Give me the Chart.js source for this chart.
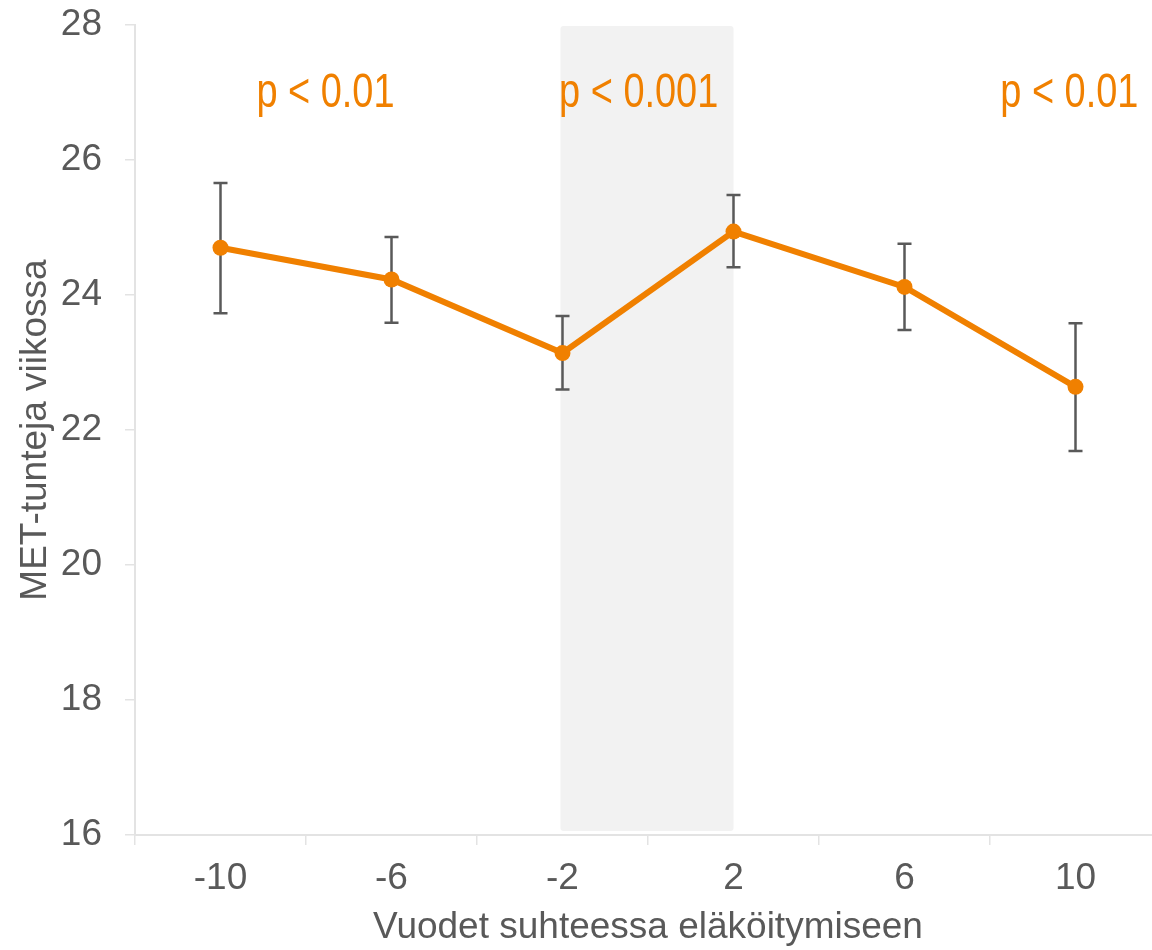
<!DOCTYPE html>
<html>
<head>
<meta charset="utf-8">
<script src="https://cdn.jsdelivr.net/npm/chart.js@4/dist/chart.umd.min.js"></script>
<style>
  html, body { margin: 0; padding: 0; background: #fff; overflow: hidden; }
  #chart { display: block; }
</style>
</head>
<body>
<canvas id="chart" width="1169" height="950"></canvas>
<script>
// --- Data ---
const years = ['-10', '-6', '-2', '2', '6', '10'];
const metHours = [24.70, 24.23, 23.14, 24.94, 24.12, 22.64];
const errUpper = [25.66, 24.86, 23.69, 25.48, 24.76, 23.58];
const errLower = [23.73, 23.59, 22.60, 24.41, 23.48, 21.69];
const yTicks = [16, 18, 20, 22, 24, 26, 28];

// p-value notes: text, x (category index, left edge), y (value, baseline)
const pTexts = ['p < 0.01', 'p < 0.001', 'p < 0.01'];
const pX = [0.21, 1.98, 4.56];
const pY = [26.79, 26.79, 26.79];

// shaded period, from category index to category index
const bandFrom = 2;
const bandTo = 3;

const ORANGE = '#f08000';
const GREY_TEXT = '#595959';
const AXIS = '#e3e3e3';
const FONT = '"Liberation Sans", Arial, sans-serif';

// --- Plugins ---
const bandPlugin = {
  id: 'band',
  beforeDatasetsDraw(chart) {
    const {ctx, chartArea, scales: {x}} = chart;
    const x0 = x.getPixelForValue(bandFrom) - 2;
    const x1 = x.getPixelForValue(bandTo);
    ctx.save();
    ctx.fillStyle = '#f2f2f2';
    ctx.beginPath();
    ctx.roundRect(x0, chartArea.top + 1, x1 - x0, chartArea.bottom - chartArea.top - 5, 3);
    ctx.fill();
    ctx.restore();
  }
};

const errorBarPlugin = {
  id: 'errorBars',
  beforeDatasetsDraw(chart) {
    const {ctx, scales: {x, y}} = chart;
    ctx.save();
    ctx.strokeStyle = GREY_TEXT;
    ctx.lineWidth = 2.5;
    for (let i = 0; i < years.length; i++) {
      const px = x.getPixelForValue(i);
      const top = y.getPixelForValue(errUpper[i]);
      const bot = y.getPixelForValue(errLower[i]);
      ctx.beginPath();
      ctx.moveTo(px, top); ctx.lineTo(px, bot);
      ctx.moveTo(px - 7, top); ctx.lineTo(px + 7, top);
      ctx.moveTo(px - 7, bot); ctx.lineTo(px + 7, bot);
      ctx.stroke();
    }
    ctx.restore();
  }
};

const pLabelPlugin = {
  id: 'pLabels',
  afterDraw(chart) {
    const {ctx, scales: {x, y}} = chart;
    ctx.save();
    ctx.fillStyle = ORANGE;
    ctx.font = '48px ' + FONT;
    ctx.textAlign = 'left';
    ctx.textBaseline = 'alphabetic';
    for (let i = 0; i < pTexts.length; i++) {
      const px = x.getPixelForValue(pX[i]);
      const py = y.getPixelForValue(pY[i]);
      ctx.save();
      ctx.translate(px, py);
      ctx.scale(0.79, 1); // narrow face
      ctx.fillText(pTexts[i], 0, 0);
      ctx.restore();
    }
    ctx.restore();
  }
};

// --- Chart ---
const ctx = document.getElementById('chart').getContext('2d');
new Chart(ctx, {
  type: 'line',
  data: {
    labels: years,
    datasets: [{
      data: metHours,
      borderColor: ORANGE,
      backgroundColor: ORANGE,
      borderWidth: 6,
      pointRadius: 8,
      pointHoverRadius: 8,
      pointBorderWidth: 0,
      fill: false,
      tension: 0,
    }]
  },
  options: {
    responsive: false,
    animation: false,
    layout: { padding: 0 },
    plugins: {
      legend: { display: false },
      tooltip: { enabled: false },
    },
    scales: {
      x: {
        offset: true,
        grid: { offset: true, drawOnChartArea: false, drawTicks: true, tickLength: 10, color: AXIS, lineWidth: 1.5 },
        border: { color: AXIS, width: 2 },
        ticks: { color: GREY_TEXT, font: { family: FONT, size: 37 }, padding: 12, maxRotation: 0 },
        title: {
          display: true,
          text: 'Vuodet suhteessa eläköitymiseen',
          color: GREY_TEXT,
          font: { family: FONT, size: 37 },
          padding: { top: 0, bottom: 0 },
        },
        afterFit(scale) { scale.height = 115; scale.paddingRight = 0; },
      },
      y: {
        min: 16,
        max: 28,
        afterBuildTicks(scale) { scale.ticks = yTicks.map(v => ({ value: v })); },
        grid: { drawOnChartArea: false, drawTicks: true, tickLength: 10, color: AXIS, lineWidth: 1.5 },
        border: { color: AXIS, width: 2 },
        ticks: { color: GREY_TEXT, font: { family: FONT, size: 37 }, padding: 23 },
        title: {
          display: true,
          text: 'MET-tunteja viikossa',
          color: GREY_TEXT,
          font: { family: FONT, size: 37 },
          padding: { top: 14, bottom: 0 },
        },
        afterFit(scale) { scale.width = 135; scale.paddingTop = 25; },
      }
    }
  },
  plugins: [bandPlugin, errorBarPlugin, pLabelPlugin]
});
</script>
</body>
</html>
